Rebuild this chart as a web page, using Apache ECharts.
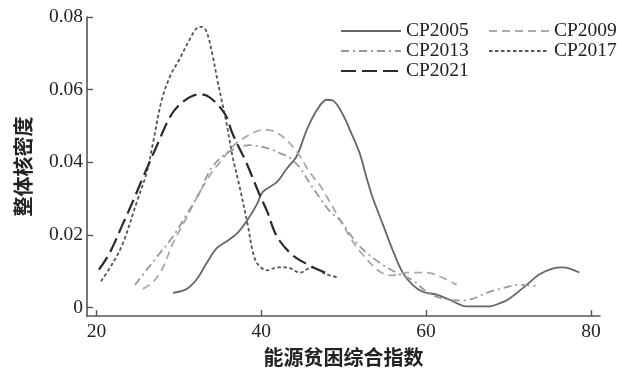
<!DOCTYPE html>
<html><head><meta charset="utf-8">
<script src="https://cdn.jsdelivr.net/npm/echarts@6/dist/echarts.min.js"></script>
<style>html,body{margin:0;padding:0;background:#fff}#c{width:622px;height:372px}</style>
</head><body><div id="c"></div>
<script>
const xTicks = [20, 40, 60, 80];
const yTicks = [0, 0.02, 0.04, 0.06, 0.08];
const seriesNames = ['CP2005', 'CP2009', 'CP2013', 'CP2017', 'CP2021'];

const cp2005 = [[29.27,0.0040],[30.97,0.0051],[32.18,0.0078],[33.39,0.0123],[34.6,0.0163],[35.82,0.0182],[37.03,0.0203],[38.24,0.0238],[39.45,0.0283],[40.18,0.0318],[41.88,0.0345],[43.09,0.0382],[44.3,0.0417],[45.52,0.0489],[46.73,0.0543],[47.94,0.0572],[48.67,0.0570],[49.88,0.0532],[51.09,0.0471],[51.94,0.0425],[52.79,0.0356],[53.52,0.0302],[54.73,0.0230],[55.94,0.0158],[57.15,0.0096],[58.36,0.0062],[59.58,0.0043],[61.27,0.0035],[62.85,0.0021],[64.9,0.0003],[67.7,0.0003],[68.9,0.0011],[70.1,0.0024],[72.2,0.0062],[73.76,0.0091],[75.33,0.0107],[76.55,0.0110],[77.4,0.0107],[78.6,0.0096]];
const cp2009 = [[25.64,0.0051],[26.85,0.0070],[27.94,0.0104],[29.27,0.0176],[30.97,0.0249],[32.55,0.0318],[34.0,0.0372],[35.33,0.0409],[36.55,0.0444],[38.6,0.0476],[40.18,0.0489],[41.27,0.0487],[42.24,0.0476],[43.45,0.0452],[44.67,0.0417],[45.88,0.0372],[47.09,0.0337],[48.3,0.0291],[49.52,0.0243],[50.73,0.0195],[51.94,0.0155],[54.36,0.0099],[55.94,0.0088],[57.64,0.0096],[60.06,0.0096],[61.6,0.0086],[63.7,0.0062]];
const cp2013 = [[24.67,0.0062],[26.12,0.0104],[27.7,0.0150],[29.27,0.0195],[30.97,0.0257],[32.55,0.0318],[33.76,0.0377],[35.33,0.0417],[37.03,0.0439],[38.6,0.0447],[40.67,0.0439],[42.24,0.0425],[43.45,0.0412],[44.67,0.0385],[45.88,0.0342],[47.09,0.0302],[48.3,0.0265],[49.52,0.0241],[50.73,0.0203],[51.94,0.0168],[54.36,0.0123],[56.79,0.0091],[58.36,0.0075],[60.06,0.0043],[61.6,0.0027],[64.06,0.0019],[65.27,0.0021],[67.33,0.0040],[69.27,0.0053],[71.33,0.0062],[73.39,0.0059]];
const cp2017 = [[20.55,0.0072],[22.0,0.0123],[23.2,0.0176],[24.9,0.0291],[26.1,0.0372],[26.85,0.0452],[27.9,0.0570],[28.9,0.0635],[30.1,0.0685],[31.3,0.0738],[32.2,0.0770],[32.8,0.0773],[33.4,0.0757],[34.1,0.0693],[34.7,0.0623],[35.3,0.0559],[35.8,0.0505],[36.5,0.0417],[37.4,0.0329],[38.4,0.0222],[39.0,0.0150],[39.6,0.0118],[40.7,0.0102],[41.9,0.0110],[43.1,0.0110],[44.7,0.0096],[46.1,0.0110],[47.9,0.0091],[49.3,0.0083]];
const cp2021 = [[20.3,0.0104],[21.6,0.0150],[23.2,0.0230],[24.4,0.0291],[25.6,0.0356],[27.3,0.0444],[28.9,0.0524],[30.1,0.0559],[31.7,0.0583],[32.8,0.0586],[33.4,0.0583],[34.1,0.0572],[35.0,0.0551],[35.8,0.0524],[36.5,0.0479],[38.2,0.0398],[39.8,0.0310],[40.7,0.0265],[41.9,0.0195],[43.8,0.0144],[45.9,0.0115],[47.1,0.0102],[48.3,0.0091]];

const styles = {
  CP2005: {color:'#666666', width:1.8, type:'solid'},
  CP2009: {color:'#aaaaaa', width:1.8, type:[8,5]},
  CP2013: {color:'#999999', width:1.8, type:[8,4,2,4]},
  CP2017: {color:'#555555', width:1.8, type:[3.5,2.5]},
  CP2021: {color:'#2a2a2a', width:2.2, type:[15,6]}
};
const dataMap = {CP2005:cp2005, CP2009:cp2009, CP2013:cp2013, CP2017:cp2017, CP2021:cp2021};

const chart = echarts.init(document.getElementById('c'), null, {renderer:'canvas'});
const serif = '"Liberation Serif", "Times New Roman", serif';
const legendCommon = {
  orient:'vertical', top:21, padding:0, itemGap:0, itemWidth:60, itemHeight:14,
  itemStyle:{opacity:0},
  textStyle:{fontFamily:serif, fontSize:19.5, color:'#222', lineHeight:20},
  selectedMode:false
};
chart.setOption({
  animation:false,
  legend:[
    Object.assign({}, legendCommon, {left:340, data:['CP2005','CP2013','CP2021']}),
    Object.assign({}, legendCommon, {left:488, data:['CP2009','CP2017']})
  ],
  grid:{left:87, right:22, top:17, bottom:47},
  xAxis:{
    type:'value', min:18.85, max:81.1,
    name:'能源贫困综合指数', nameLocation:'middle', nameGap:22,
    nameTextStyle:{fontFamily:'"Noto Sans CJK SC"', fontWeight:'bold', fontSize:20, color:'#222'},
    axisLine:{onZero:false, lineStyle:{color:'#555', width:1.6}},
    axisTick:{inside:true, length:6, customValues:xTicks, lineStyle:{color:'#555', width:1.4}},
    axisLabel:{customValues:xTicks, fontFamily:serif, fontSize:19.5, color:'#222', margin:6},
    splitLine:{show:false}
  },
  yAxis:{
    type:'value', min:-0.0024, max:0.08,
    name:'整体核密度', nameLocation:'middle', nameGap:54, nameRotate:90,
    nameTextStyle:{fontFamily:'"Noto Sans CJK SC"', fontWeight:'bold', fontSize:20, color:'#222'},
    axisLine:{show:true, onZero:false, lineStyle:{color:'#555', width:1.6}},
    axisTick:{show:true, inside:true, length:6, customValues:yTicks, lineStyle:{color:'#555', width:1.4}},
    axisLabel:{customValues:yTicks, fontFamily:serif, fontSize:19.5, color:'#222', margin:4,
      formatter:function(v){return v===0?'0':v.toFixed(2);}},
    splitLine:{show:false}
  },
  series: seriesNames.map(function(n){
    return {
      name:n, type:'line', data:dataMap[n], smooth:0.35, symbol:'none',
      lineStyle:{color:styles[n].color, width:styles[n].width, type:styles[n].type},
      itemStyle:{color:styles[n].color}
    };
  })
});
</script>
</body></html>
